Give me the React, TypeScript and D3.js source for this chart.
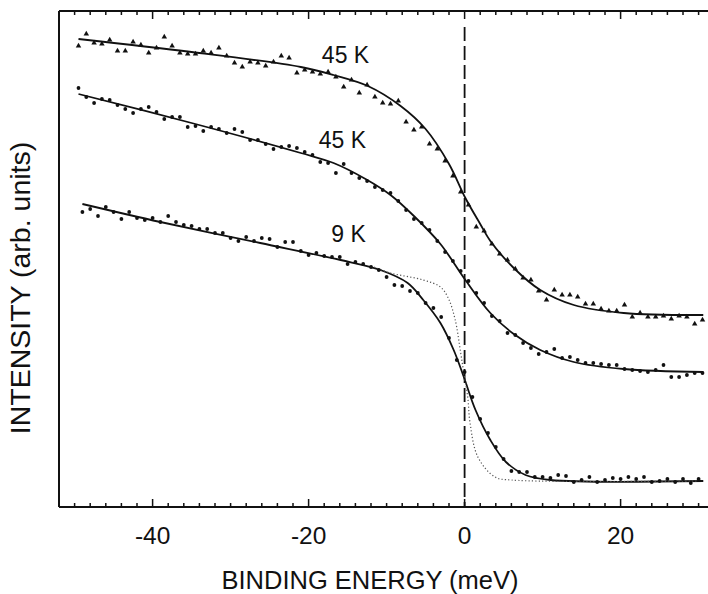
import React from "react";
import * as d3 from "d3";

// binding energy grid (meV) and measured intensities (arb. units)
const start45a = -49.5;
const spec45a = [
  461, 473, 464, 463, 467, 456, 456, 465, 462, 454, 459, 470, 461, 454, 453,
  453, 456, 454, 459, 451, 444, 440, 445, 444, 441, 445, 451, 449, 434,
  437, 435, 433, 435, 430, 420, 427, 414, 422, 410, 404, 403, 406, 385, 377,
  380, 363, 358, 346,
  331, 315, 302, 280, 276, 263, 253, 247, 238, 229, 227, 216, 207, 217, 212,
  212, 210, 203, 203, 198, 196, 196, 202, 190, 194, 190, 190, 191, 188, 191,
  190, 183, 187,
];

const start45b = -49.5;
const spec45b = [
  419, 410, 404, 408, 407, 402, 398, 394, 398, 400, 395, 388, 390, 390, 380,
  381, 376, 380, 378, 374, 378, 375, 367, 367, 363, 358, 360, 361, 359,
  355, 352, 345, 344, 334, 343, 334, 329, 326, 320, 317, 314, 306, 297, 288,
  284, 277, 266, 255, 246, 236, 226, 214, 204, 191, 186, 174, 172, 164, 159,
  153, 155, 158, 149, 150, 147, 144, 144, 143, 142, 142, 138, 137, 136, 135,
  137, 142, 130, 130, 132, 134, 134,
];

const start9 = -49;
const spec9 = [
  295, 298, 291, 300, 295, 288, 295, 289, 287, 289, 285, 291, 285, 282, 281,
  278, 278, 274, 274, 269, 266, 270, 266, 269, 268, 260, 265, 265, 256, 252,
  254, 251, 250, 250, 243, 245,
  243, 240, 237, 230, 222, 221, 216, 214, 204, 199, 190, 169, 147, 135,
  110, 88, 74, 60, 48, 36, 35, 35, 30, 30, 29, 32, 31, 25, 27, 30, 25, 27, 29,
  28, 30, 28, 30, 25, 26, 28, 25, 28, 24, 28,
];

// fitted curves [energy, intensity]
const fit45a: [number, number][] = [
  [-49.5, 468], [-35, 455], [-21, 440], [-16.8, 432], [-12.4, 421],
  [-8.2, 401], [-5, 378], [-2, 343], [0.1, 309], [2, 283], [3.3, 266],
  [6.3, 239], [9.7, 217], [14, 202], [20.4, 194], [30.6, 192],
];
const fit45b: [number, number][] = [
  [-49.5, 413], [-35, 384], [-21, 354], [-16.8, 344], [-12.7, 328],
  [-9.5, 312], [-6.5, 291], [-3.1, 263], [0.1, 227], [3.3, 194], [6.3, 173],
  [9.7, 157], [14, 145], [20.4, 138], [30.6, 135],
];
const fit9: [number, number][] = [
  [-49, 303], [-39, 285], [-26.2, 264], [-15.9, 247], [-10.8, 237],
  [-7.3, 224], [-5.3, 207], [-3.1, 184], [-1.4, 157], [-0.1, 130], [1.4, 97],
  [3.3, 67], [5.3, 45], [7.8, 32], [11, 27], [30.6, 26],
];
const fit9sharp: [number, number][] = [
  [-12, 241], [-9.5, 234], [-5.3, 227], [-3.1, 220], [-2.1, 209],
  [-1.2, 187], [-0.5, 154], [-0.1, 134], [0.4, 110], [0.7, 84], [1.7, 50],
  [3.9, 30], [6, 27], [30, 26],
];

const labels = [
  { text: "45 K", e: -18.3, v: 444 },
  { text: "45 K", e: -18.7, v: 359 },
  { text: "9 K", e: -17.1, v: 265 },
];

const majorTicks = [-40, -20, 0, 20];
const minorTicks = d3.range(-50, 32, 2);

const FONT = "'Liberation Sans', Arial, sans-serif";

export default function App() {
  const x = d3.scaleLinear().domain([-52, 32]).range([59, 714.2]);
  const y = d3.scaleLinear().domain([0, 496]).range([507, 11]);

  const line = d3
    .line<[number, number]>()
    .x((d) => x(d[0]))
    .y((d) => y(d[1]))
    .curve(d3.curveCatmullRom.alpha(0.5));

  const pts = (s: number, arr: number[]) =>
    arr.map((v, i) => [s + i, v] as [number, number]);

  const tri = d3.symbol().type(d3.symbolTriangle).size(13)();

  const [x0, x1] = x.range();
  const [yb, yt] = y.range();

  return (
    <svg
      width={708}
      height={594}
      style={{ position: "absolute", left: 0, top: 0, background: "#fff" }}
      fontFamily={FONT}
    >
      {/* frame */}
      <g stroke="#111" strokeWidth={2} fill="none">
        <line x1={x0} x2={x1} y1={yb} y2={yb} />
        <line x1={x0} x2={x1} y1={yt} y2={yt} />
        <line x1={x0} x2={x0} y1={yt} y2={yb} />
      </g>
      <g stroke="#111" strokeWidth={1.5}>
        {minorTicks.map((t) => {
          const len = majorTicks.includes(t) ? 8 : 4;
          return (
            <g key={t}>
              <line x1={x(t)} x2={x(t)} y1={yb} y2={yb - len} />
              <line x1={x(t)} x2={x(t)} y1={yt} y2={yt + len} />
            </g>
          );
        })}
      </g>
      {majorTicks.map((t) => (
        <text key={t} x={x(t)} y={544} fontSize={24.5} textAnchor="middle" fill="#111">
          {t}
        </text>
      ))}
      <text x={370} y={589} fontSize={25.5} textAnchor="middle" fill="#111">
        BINDING ENERGY (meV)
      </text>
      <text
        transform="translate(30,288) rotate(-90)"
        fontSize={28.5}
        textAnchor="middle"
        fill="#111"
      >
        INTENSITY (arb. units)
      </text>

      {/* Fermi level */}
      <line
        x1={x(0)}
        x2={x(0)}
        y1={27}
        y2={yb}
        stroke="#111"
        strokeWidth={1.8}
        strokeDasharray="14 5"
      />

      {/* fits */}
      <g fill="none" stroke="#111" strokeWidth={1.8}>
        <path d={line(fit45a) || ""} />
        <path d={line(fit45b) || ""} />
        <path d={line(fit9) || ""} />
      </g>
      <path
        d={line(fit9sharp) || ""}
        fill="none"
        stroke="#555"
        strokeWidth={1.2}
        strokeDasharray="1.2 2.2"
      />

      {/* data */}
      <g fill="#111">
        {pts(start45a, spec45a).map((d, i) => (
          <path key={i} d={tri || ""} transform={`translate(${x(d[0])},${y(d[1])})`} />
        ))}
        {pts(start45b, spec45b).map((d, i) => (
          <circle key={i} cx={x(d[0])} cy={y(d[1])} r={1.9} />
        ))}
        {pts(start9, spec9).map((d, i) => (
          <circle key={i} cx={x(d[0])} cy={y(d[1])} r={1.9} />
        ))}
      </g>

      {labels.map((l, i) => (
        <text key={i} x={x(l.e)} y={y(l.v)} fontSize={23} fill="#111">
          {l.text}
        </text>
      ))}
    </svg>
  );
}
